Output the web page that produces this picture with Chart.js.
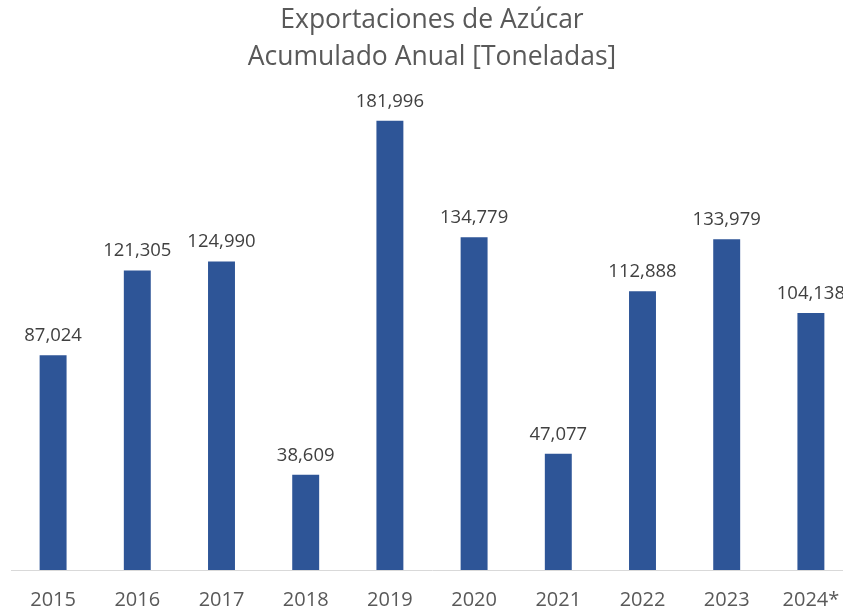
<!DOCTYPE html>
<html>
<head>
<meta charset="utf-8">
<script src="https://cdn.jsdelivr.net/npm/chart.js@4"></script>
<style>
html,body{margin:0;padding:0;background:#fff;overflow:hidden;width:843px;height:612px;}
#wrap{width:860px;height:630px;}
</style>
</head>
<body>
<div id="wrap"><canvas id="c" width="860" height="630"></canvas></div>
<script>
const categories = ['2015','2016','2017','2018','2019','2020','2021','2022','2023','2024*'];
const exportValues = [87024, 121305, 124990, 38609, 181996, 134779, 47077, 112888, 133979, 104138];
const titleLines = ['Exportaciones de Azúcar', 'Acumulado Anual [Toneladas]'];

const FONT = '"Open Sans", "Noto Sans", sans-serif';

const labelPlugin = {
  id: 'barLabels',
  afterDatasetsDraw(chart) {
    const ctx = chart.ctx;
    const meta = chart.getDatasetMeta(0);
    ctx.save();
    ctx.font = '18.5px ' + FONT;
    ctx.fillStyle = '#404040';
    ctx.textAlign = 'center';
    ctx.textBaseline = 'alphabetic';
    meta.data.forEach((bar, i) => {
      const v = chart.data.datasets[0].data[i];
      ctx.fillText(v.toLocaleString('en-US'), bar.x, bar.y - 14);
    });
    ctx.restore();
  }
};

new Chart(document.getElementById('c'), {
  type: 'bar',
  data: {
    labels: categories,
    datasets: [{
      data: exportValues,
      backgroundColor: '#2E5597',
      categoryPercentage: 1,
      barPercentage: 0.32
    }]
  },
  options: {
    responsive: false,
    animation: false,
    layout: { padding: { left: 11, right: 7, top: 0, bottom: 0 } },
    plugins: {
      legend: { display: false },
      tooltip: { enabled: false },
      title: {
        display: true,
        text: titleLines,
        color: '#595959',
        font: { family: FONT, size: 26.5, weight: 'normal', lineHeight: 1.4 },
        padding: { top: 2, bottom: 0 }
      }
    },
    scales: {
      x: {
        grid: { display: false, drawTicks: false },
        border: { display: true, color: '#D9D9D9', width: 1 },
        ticks: { color: '#595959', font: { family: FONT, size: 20 }, padding: 18, maxRotation: 0 }
      },
      y: {
        display: false,
        min: 0,
        max: 200000
      }
    }
  },
  plugins: [labelPlugin]
});
</script>
</body>
</html>
